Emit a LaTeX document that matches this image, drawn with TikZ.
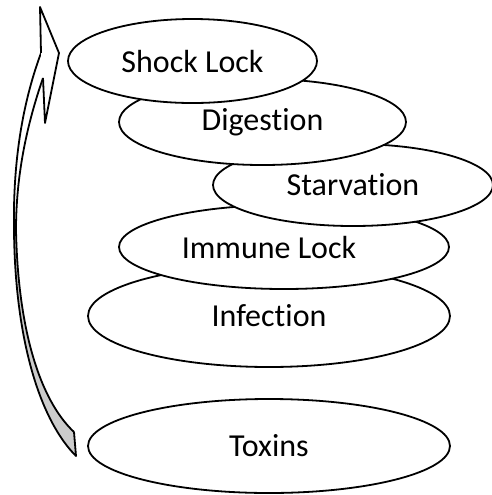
\documentclass[tikz,border=0pt]{standalone}
\usepackage{fontspec}
\setmainfont{Carlito}[Ligatures={NoCommon}]
\usetikzlibrary{shapes.geometric}

\begin{document}
\begin{tikzpicture}[x=0.5pt, y=-0.5pt,
		bubble/.style={ellipse, draw, fill=white, line width=0.9pt, inner sep=0pt,
			font=\fontsize{16}{19}\selectfont},
		band/.style={draw, line width=0.9pt, line join=round}]
		\useasboundingbox (0,0) rectangle (492,495);
		
		% curved arrow on the left
		\fill[white] (41,53) .. controls (20,110) and (13,170) .. (14,230)
			-- (16,230) .. controls (16,180) and (25,130) .. (43,78) -- cycle;
		\fill[gray!40] (14,230) .. controls (15,340) and (40,420) .. (76,456)
			-- (74,432) .. controls (40,400) and (18,330) .. (16,230) -- cycle;
		\draw[band] (41,53) .. controls (20,110) and (13,170) .. (14,230)
			.. controls (15,340) and (40,420) .. (76,456) -- (74,432);
		\draw[band] (43,78) .. controls (25,130) and (16,180) .. (16,230)
			.. controls (18,330) and (40,400) .. (74,432);
		\draw[band, fill=white] (41,53) -- (40,7) -- (59,53) -- (45,123) -- (43,78);
		
		% stack of ellipses, bottom one first
		\node[bubble, minimum width=181pt, minimum height=47pt] (toxins) at (269,446) {Toxins};
		\node[bubble, minimum width=181pt, minimum height=51pt] (infection) at (269,316) {Infection};
		\node[bubble, minimum width=165pt, minimum height=42pt] (immune) at (284,247) {};
		\node[font=\fontsize{16}{19}\selectfont] (immunetext) at (269,247) {Immune Lock};
		\node[bubble, minimum width=140pt, minimum height=41pt] (starvation) at (353,185) {Starvation};
		\node[bubble, minimum width=143.5pt, minimum height=43pt] (digestion) at (262.5,122) {Digestion};
		\node[bubble, minimum width=124.5pt, minimum height=42pt] (shock) at (192.5,61) {Shock Lock};
	\end{tikzpicture}
\end{document}
